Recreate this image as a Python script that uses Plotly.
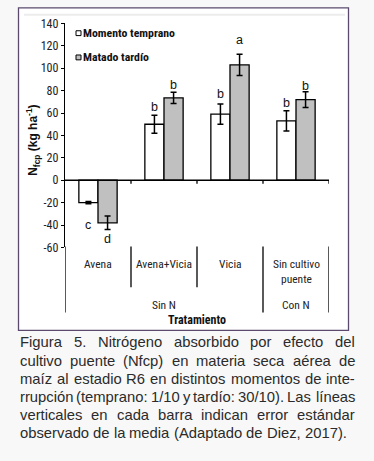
import plotly.graph_objects as go

W, H = 374, 461

categories = ["Avena", "Avena+Vicia", "Vicia", "Sin cultivo<br>puente"]
temprano = [-20, 50, 59, 53]
temprano_err = [1, 8, 9, 9]
tardio = [-38, 73.5, 103, 72]
tardio_err = [6, 5, 9.5, 7]
letters_temprano = ["c", "b", "b", "b"]
letters_tardio = ["d", "b", "a", "b"]
letter_y_temprano = [-40, 65, 77, 69]
letter_y_tardio = [-52, 85, 125, 84]
yticks = [-60, -40, -20, 0, 20, 40, 60, 80, 100, 120, 140]
ytick_text = ["-60", "-40", "-20", "0", "20", "40", "60", "80", "100", "120", "140"]
series_names = ["Momento temprano", "Matado tardío"]
groups = ["Sin N", "Con N"]
caption = [
    "Figura 5. Nitrógeno absorbido por efecto del",
    "cultivo puente (Nfcp) en materia seca aérea de",
    "maíz al estadio R6 en distintos momentos de inte-",
    "rrupción (temprano: 1/10 y tardío: 30/10). Las líneas",
    "verticales en cada barra indican error estándar",
    "observado de la media (Adaptado de Diez, 2017).",
]

NARROW = "Roboto Condensed, DejaVu Sans Condensed, Liberation Sans, sans-serif"
CAPFONT = "Liberation Sans, Arial, sans-serif"
GRAY = "#c0c0c0"

def px(x):
    return x / W

def py(y):
    return 1 - y / H

# Arial / Liberation Sans advance widths (per 1000 em) for caption justification
AW = {" ": 278, ".": 278, ",": 278, "(": 333, ")": 333, "/": 278, ":": 278, "-": 333}
for ch in "abdeghnopqu":
    AW[ch] = 556
for ch in "cksvxyz":
    AW[ch] = 500
AW.update({"f": 278, "i": 222, "j": 222, "l": 222, "m": 833, "r": 333, "t": 278, "w": 722,
           "ó": 556, "é": 556, "á": 556, "í": 278,
           "F": 611, "N": 722, "R": 722, "L": 667, "A": 667, "D": 722})
for ch in "0123456789":
    AW[ch] = 556

def text_w(s, size):
    return sum(AW.get(ch, 556) for ch in s) * size / 1000.0

xs = list(range(len(categories)))

fig = go.Figure()
fig.add_trace(go.Bar(
    x=xs, y=temprano, name=series_names[0],
    marker=dict(color="white", line=dict(color="black", width=1.3)),
    error_y=dict(type="data", array=temprano_err, color="black", thickness=1.5, width=3),
    showlegend=False,
))
fig.add_trace(go.Bar(
    x=xs, y=tardio, name=series_names[1],
    marker=dict(color=GRAY, line=dict(color="black", width=1.3)),
    error_y=dict(type="data", array=tardio_err, color="black", thickness=1.5, width=3),
    showlegend=False,
))

shapes = []
annotations = []

# outer frame
shapes.append(dict(type="rect", xref="paper", yref="paper",
                   x0=px(18.5), x1=px(348.5), y0=py(333.5), y1=py(1),
                   line=dict(color="#5b4a6e", width=1.3), fillcolor="white", layer="below"))
shapes.append(dict(type="line", xref="paper", yref="paper",
                   x0=px(24), x1=px(345), y0=py(8), y1=py(8),
                   line=dict(color="#ececec", width=2), layer="below"))

# zero line (x axis)
shapes.append(dict(type="line", xref="x", yref="y", x0=-0.5, x1=3.5, y0=0, y1=0,
                   line=dict(color="black", width=1.3)))
for b in [0.5, 1.5, 2.5, 3.5]:
    shapes.append(dict(type="line", xref="x", yref="y", x0=b, x1=b, y0=0, y1=-3,
                       line=dict(color="black", width=1.3)))

# category separators
for b in [0.5, 1.5]:
    shapes.append(dict(type="line", xref="x", yref="paper", x0=b, x1=b,
                       y0=py(247), y1=py(289), line=dict(color="black", width=1.3)))
for b in [-0.5, 2.5, 3.5]:
    shapes.append(dict(type="line", xref="x", yref="paper", x0=b, x1=b,
                       y0=py(247), y1=py(315), line=dict(color="black", width=1.3)))

# category labels
for i, c in enumerate(categories):
    annotations.append(dict(x=i, y=py(256), xref="x", yref="paper", text=c,
                            showarrow=False, xanchor="center", yanchor="top",
                            font=dict(family=NARROW, size=11.5, color="#222")))
for gx, g in zip([1, 3], groups):
    annotations.append(dict(x=gx, y=py(307), xref="x", yref="paper", text=g,
                            showarrow=False, xanchor="center", yanchor="middle",
                            font=dict(family=NARROW, size=11.5, color="#222")))
annotations.append(dict(x=px(197), y=py(323), xref="paper", yref="paper", text="<b>Tratamiento</b>",
                        showarrow=False, xanchor="center", yanchor="middle",
                        font=dict(family=NARROW, size=12, color="#111")))

# significance letters
off = 0.145
for i in xs:
    annotations.append(dict(x=i - off, y=letter_y_temprano[i], xref="x", yref="y",
                            text=letters_temprano[i], showarrow=False,
                            font=dict(family=CAPFONT, size=12.5, color="#111")))
    annotations.append(dict(x=i + off, y=letter_y_tardio[i], xref="x", yref="y",
                            text=letters_tardio[i], showarrow=False,
                            font=dict(family=CAPFONT, size=12.5, color="#111")))

# y title
annotations.append(dict(x=px(33), y=py(138), xref="paper", yref="paper",
                        text="<b>N<sub>fcp</sub> (kg ha<sup>-1</sup>)</b>", textangle=-90,
                        showarrow=False, xanchor="center", yanchor="middle",
                        font=dict(family=CAPFONT, size=12, color="#111")))

# legend (manual)
for j, (name, col) in enumerate(zip(series_names, ["white", GRAY])):
    yc = 27 + 25 * j
    shapes.append(dict(type="rect", xref="paper", yref="paper",
                       x0=px(76), x1=px(81), y0=py(yc + 2.5), y1=py(yc - 2.5),
                       line=dict(color="black", width=1), fillcolor=col))
    annotations.append(dict(x=px(80.5), y=py(yc), xref="paper", yref="paper",
                            text="<b>" + name + "</b>", showarrow=False,
                            xanchor="left", yanchor="middle",
                            font=dict(family=NARROW, size=11.8, color="#111")))

# caption (justified word by word)
CAP_SIZE = 14.8
LEFT, RIGHT = 19.0, 354.0
for k, line in enumerate(caption):
    ycap = py(346 + 18.7 * k)
    words = line.split(" ")
    widths = [text_w(w, CAP_SIZE) for w in words]
    last = (k == len(caption) - 1)
    if last or len(words) == 1:
        gap = text_w(" ", CAP_SIZE)
    else:
        gap = (RIGHT - LEFT - sum(widths)) / (len(words) - 1)
        gap = max(gap, text_w(" ", CAP_SIZE) * 0.6)
    xcur = LEFT
    for w, wd in zip(words, widths):
        annotations.append(dict(x=px(xcur), y=ycap, xref="paper", yref="paper",
                                text=w, showarrow=False, xanchor="left", yanchor="middle",
                                borderpad=0, font=dict(family=CAPFONT, size=CAP_SIZE, color="#2b2b2b")))
        xcur += wd + gap

fig.update_layout(
    width=W, height=H,
    margin=dict(l=0, r=0, t=0, b=0),
    paper_bgcolor="#f8f8f8",
    plot_bgcolor="rgba(0,0,0,0)",
    barmode="group", bargap=0.42, bargroupgap=0,
    shapes=shapes, annotations=annotations,
    xaxis=dict(domain=[px(65), px(329)], range=[-0.5, 3.5], showticklabels=False,
               showgrid=False, zeroline=False, showline=False, ticks=""),
    yaxis=dict(domain=[py(248), py(17)], range=[-60, 140], tickvals=yticks, ticktext=ytick_text,
               showgrid=False, zeroline=False, showline=True, linecolor="black", linewidth=1.3,
               ticks="outside", ticklen=3, tickcolor="black", tickwidth=1.3,
               tickfont=dict(family=NARROW, size=12, color="#222")),
)

fig.write_html("out.html", config={"displayModeBar": False},
               post_script="document.body.style.margin='0';document.body.style.padding='0';")
